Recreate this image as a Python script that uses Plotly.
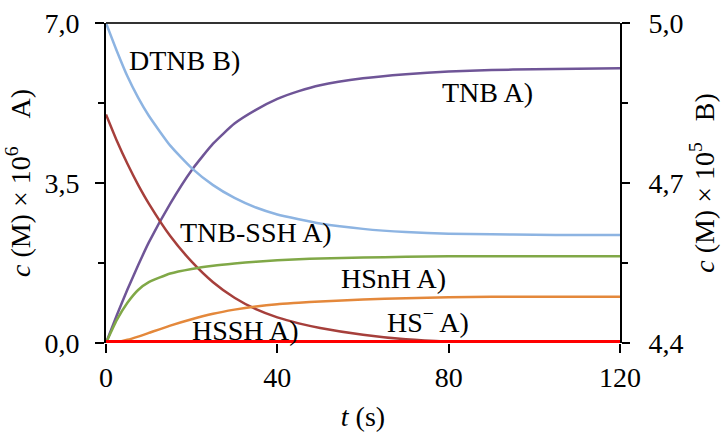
import plotly.graph_objects as go

# Sampling times (s)
t = [0, 2.5, 5, 7.5, 10, 15, 20, 25, 30, 35, 40, 45, 50, 60, 70, 80, 90, 100, 110, 120]

# Concentrations, scale A: c (M) x 10^6
tnb = [0, 0.6, 1.17, 1.7, 2.2, 3.05, 3.78, 4.36, 4.8, 5.1, 5.34, 5.51, 5.64, 5.79, 5.88, 5.94, 5.97, 5.99, 6.0, 6.01]
hs_minus = [5.0, 4.43, 3.92, 3.46, 3.05, 2.34, 1.78, 1.33, 0.99, 0.74, 0.56, 0.43, 0.33, 0.18, 0.08, 0.03, 0.01, 0.0, 0.0, 0.0]
tnb_ssh = [0, 0.5, 0.88, 1.16, 1.33, 1.52, 1.62, 1.69, 1.74, 1.78, 1.81, 1.83, 1.85, 1.87, 1.885, 1.895, 1.9, 1.9, 1.9, 1.9]
hsnh = [0, 0.02, 0.07, 0.14, 0.22, 0.38, 0.52, 0.64, 0.73, 0.8, 0.85, 0.88, 0.91, 0.95, 0.98, 1.0, 1.01, 1.01, 1.01, 1.01]
hssh = [0] * len(t)

# Concentration, scale B: c (M) x 10^5
dtnb = [5.0, 4.948, 4.9, 4.86, 4.826, 4.77, 4.728, 4.696, 4.672, 4.654, 4.641, 4.632, 4.624, 4.614, 4.608, 4.605, 4.604, 4.603, 4.6025, 4.6025]

# Axis ticks
x_ticks = [0, 40, 80, 120]
yA_ticks = [0, 3.5, 7]
yA_text = ["0,0", "3,5", "7,0"]
yB_ticks = [4.4, 4.7, 5.0]
yB_text = ["4,4", "4,7", "5,0"]

# Curve labels: (text, t, c on scale A)
labels = [
    ("DTNB B)", 4.9, 6.19),
    ("TNB A)", 78.0, 5.47),
    ("TNB-SSH A)", 16.9, 2.41),
    ("HSnH A)", 54.4, 1.42),
    ("HS<sup>−</sup> A)", 65.2, 0.49),
    ("HSSH A)", 19.7, 0.27),
]

FONT = "Liberation Serif"
FS = 28

fig = go.Figure()

series = [
    (t, dtnb, "#8DB4E2", 2.5, "y2"),
    (t, tnb, "#6F5597", 2.5, "y"),
    (t, hs_minus, "#A63F3B", 2.5, "y"),
    (t, tnb_ssh, "#80A847", 2.5, "y"),
    (t, hsnh, "#E4883B", 2.5, "y"),
    (t, hssh, "#FF0000", 6, "y"),
]
for xs, ys, col, w, ax in series:
    fig.add_trace(go.Scatter(x=xs, y=ys, mode="lines", yaxis=ax,
                             line=dict(color=col, width=w, shape="spline", smoothing=0.5),
                             showlegend=False, hoverinfo="skip"))

for txt, xt, yt in labels:
    fig.add_annotation(x=xt, y=yt, xref="x", yref="y", text=txt, showarrow=False,
                       xanchor="left", yanchor="middle",
                       font=dict(family=FONT, size=FS, color="black"))

# Top frame line
fig.add_shape(type="line", xref="paper", yref="paper", x0=0, x1=1, y0=1, y1=1,
              line=dict(color="#333333", width=2))

fig.update_layout(
    width=721, height=434,
    margin=dict(l=106, r=101, t=23, b=91, autoexpand=False),
    paper_bgcolor="white", plot_bgcolor="white",
    font=dict(family=FONT, size=FS, color="black"),
    xaxis=dict(
        range=[0, 120], tickvals=x_ticks, ticks="outside", ticklen=9, tickwidth=2,
        tickcolor="black", showline=False,
        showgrid=False, zeroline=False, layer="below traces", ticklabelstandoff=0,
        automargin=False,
        title=dict(text="<i>t</i> (s)", standoff=14, font=dict(family=FONT, size=FS)),
    ),
    yaxis=dict(
        range=[0, 7], tickvals=yA_ticks, ticktext=yA_text, ticks="outside", ticklen=9,
        tickwidth=2, tickcolor="black", showline=True, linecolor="black", linewidth=2,
        showgrid=False, zeroline=False, layer="below traces", ticklabelstandoff=10,
        automargin=False,
        minor=dict(dtick=1.75, tick0=0, ticks="outside", ticklen=6, tickwidth=2, tickcolor="black"),
        title=dict(text="<i>c</i> (M) × 10<sup>6</sup>\u00a0\u00a0\u00a0\u00a0A)", standoff=6,
                   font=dict(family=FONT, size=FS)),
    ),
    yaxis2=dict(
        range=[4.4, 5.0], tickvals=yB_ticks, ticktext=yB_text, overlaying="y", side="right",
        anchor="x", ticks="outside", ticklen=8, tickwidth=2, tickcolor="black",
        showline=True, linecolor="black", linewidth=2, showgrid=False, zeroline=False,
        layer="below traces", ticklabelstandoff=13, automargin=False,
        minor=dict(dtick=0.15, tick0=4.4, ticks="outside", ticklen=6, tickwidth=2, tickcolor="black"),
        title=dict(text="<i>c</i> (M) × 10<sup>5</sup>\u00a0\u00a0\u00a0B)", standoff=12,
                   font=dict(family=FONT, size=FS)),
    ),
)

fig.write_html("out.html")
